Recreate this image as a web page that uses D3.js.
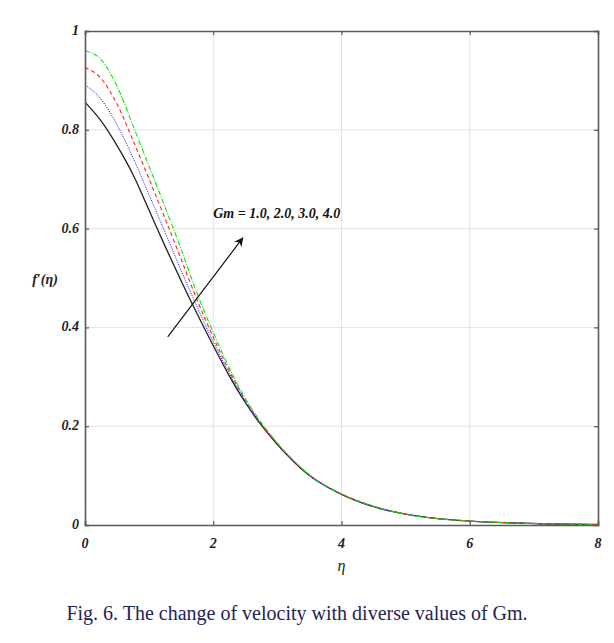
<!DOCTYPE html>
<html>
<head>
<meta charset="utf-8">
<script src="https://cdn.jsdelivr.net/npm/d3@7"></script>
<style>
  body { margin: 0; background: #fff; }
  svg text { font-family: "Liberation Serif", "Times New Roman", serif; }
</style>
</head>
<body>
<div id="chart"></div>
<script>
// eta grid shared by all curves
const eta = [0, 0.25, 0.5, 0.75, 1, 1.25, 1.5, 1.75, 2, 2.25, 2.5, 2.75, 3, 3.5, 4, 4.5, 5, 5.5, 6, 7, 8];

// f'(eta) for Gm = 1, 2, 3, 4
const gm1 = [0.856, 0.818, 0.768, 0.709, 0.637, 0.564, 0.494, 0.427, 0.363, 0.302, 0.248, 0.202, 0.163, 0.100, 0.062, 0.037, 0.022, 0.013, 0.008, 0.003, 0.001];
const gm2 = [0.891, 0.862, 0.810, 0.743, 0.668, 0.592, 0.515, 0.441, 0.371, 0.307, 0.250, 0.204, 0.164, 0.100, 0.062, 0.037, 0.022, 0.013, 0.008, 0.003, 0.001];
const gm3 = [0.926, 0.904, 0.852, 0.778, 0.700, 0.620, 0.538, 0.455, 0.380, 0.312, 0.253, 0.205, 0.165, 0.101, 0.063, 0.038, 0.022, 0.013, 0.008, 0.003, 0.001];
const gm4 = [0.960, 0.942, 0.888, 0.808, 0.726, 0.643, 0.558, 0.468, 0.390, 0.318, 0.256, 0.207, 0.166, 0.102, 0.063, 0.038, 0.022, 0.013, 0.008, 0.003, 0.001];

const xTicks = [0, 2, 4, 6, 8];
const yTicks = [0, 0.2, 0.4, 0.6, 0.8, 1];
const yTickLabels = ['0', '0.2', '0.4', '0.6', '0.8', '1'];

const series = [
  { values: gm1, color: '#222', dash: null, width: 1.3 },
  { values: gm2, color: '#2a2aff', dash: '1.2,1.2', width: 1 },
  { values: gm3, color: '#ff2020', dash: '4,3', width: 1.1 },
  { values: gm4, color: '#10e010', dash: '5,1.5,1,1.5', width: 1.1 }
];

const width = 614, height = 643;
const margin = { left: 85, right: 16, top: 31, bottom: 118 };
const w = width - margin.left - margin.right;
const h = height - margin.top - margin.bottom;

const svg = d3.select('#chart').append('svg')
  .attr('width', width)
  .attr('height', height);

const g = svg.append('g').attr('transform', `translate(${margin.left},${margin.top})`);

const x = d3.scaleLinear().domain([0, 8]).range([0, w]);
const y = d3.scaleLinear().domain([0, 1]).range([h, 0]);

// grid
g.append('g').selectAll('line').data(xTicks.slice(1, -1)).join('line')
  .attr('x1', d => x(d)).attr('x2', d => x(d))
  .attr('y1', 0).attr('y2', h)
  .attr('stroke', '#e3e3e3').attr('stroke-width', 1);
g.append('g').selectAll('line').data(yTicks.slice(1, -1)).join('line')
  .attr('y1', d => y(d)).attr('y2', d => y(d))
  .attr('x1', 0).attr('x2', w)
  .attr('stroke', '#e3e3e3').attr('stroke-width', 1);

// curves
const line = d3.line()
  .x((d, i) => x(eta[i]))
  .y(d => y(d))
  .curve(d3.curveMonotoneX);

series.forEach(s => {
  g.append('path')
    .datum(s.values)
    .attr('fill', 'none')
    .attr('stroke', s.color)
    .attr('stroke-width', s.width)
    .attr('stroke-dasharray', s.dash)
    .attr('d', line);
});

// axes (ticks inward, labels drawn separately)
const axisColor = '#5a5a5a';
const xAxis = d3.axisBottom(x).tickValues(xTicks).tickSize(-4).tickFormat('');
const xAxisTop = d3.axisTop(x).tickValues(xTicks).tickSize(-4).tickFormat('');
const yAxis = d3.axisLeft(y).tickValues(yTicks).tickSize(-4).tickFormat('');
const yAxisRight = d3.axisRight(y).tickValues(yTicks).tickSize(-4).tickFormat('');

[
  g.append('g').attr('transform', `translate(0,${h})`).call(xAxis),
  g.append('g').call(xAxisTop),
  g.append('g').call(yAxis),
  g.append('g').attr('transform', `translate(${w},0)`).call(yAxisRight)
].forEach(a => {
  a.selectAll('path').attr('stroke', axisColor).attr('stroke-width', 1.6);
  a.selectAll('line').attr('stroke', axisColor).attr('stroke-width', 1.2);
});

// tick labels
g.append('g').selectAll('text').data(xTicks).join('text')
  .attr('x', d => x(d)).attr('y', h + 23)
  .attr('text-anchor', 'middle')
  .attr('font-size', 14).attr('font-weight', 'bold').attr('font-style', 'italic')
  .attr('fill', '#222')
  .text(d => d);

g.append('g').selectAll('text').data(yTicks).join('text')
  .attr('x', -6).attr('y', d => y(d) + 4)
  .attr('text-anchor', 'end')
  .attr('font-size', 14).attr('font-weight', 'bold').attr('font-style', 'italic')
  .attr('fill', '#222')
  .text((d, i) => yTickLabels[i]);

// axis titles
g.append('text')
  .attr('x', x(4)).attr('y', h + 46)
  .attr('text-anchor', 'middle')
  .attr('font-size', 16).attr('font-style', 'italic')
  .attr('fill', '#222')
  .text('η');

g.append('text')
  .attr('x', -40).attr('y', y(0.5) + 6)
  .attr('text-anchor', 'middle')
  .attr('font-size', 14).attr('font-weight', 'bold').attr('font-style', 'italic')
  .attr('fill', '#222')
  .text('f′(η)');

// annotation and arrow
const arrowFrom = [1.29, 0.381];
const arrowTo = [2.46, 0.581];

svg.append('defs').append('marker')
  .attr('id', 'arrow')
  .attr('viewBox', '0 0 10 10')
  .attr('refX', 9).attr('refY', 5)
  .attr('markerWidth', 9).attr('markerHeight', 9)
  .attr('markerUnits', 'userSpaceOnUse')
  .attr('orient', 'auto')
  .append('path')
  .attr('d', 'M0,0 L10,5 L0,10 L3,5 Z')
  .attr('fill', '#111');

g.append('line')
  .attr('x1', x(arrowFrom[0])).attr('y1', y(arrowFrom[1]))
  .attr('x2', x(arrowTo[0])).attr('y2', y(arrowTo[1]))
  .attr('stroke', '#111').attr('stroke-width', 1.2)
  .attr('marker-end', 'url(#arrow)');

g.append('text')
  .attr('x', x(2.0)).attr('y', y(0.621))
  .attr('font-size', 14).attr('font-weight', 'bold').attr('font-style', 'italic')
  .attr('fill', '#111')
  .text('Gm = 1.0, 2.0, 3.0, 4.0');

// caption
svg.append('text')
  .attr('x', 297).attr('y', 620)
  .attr('text-anchor', 'middle')
  .attr('font-size', 20)
  .attr('fill', '#1f2456')
  .text('Fig. 6. The change of velocity with diverse values of Gm.');
</script>
</body>
</html>
